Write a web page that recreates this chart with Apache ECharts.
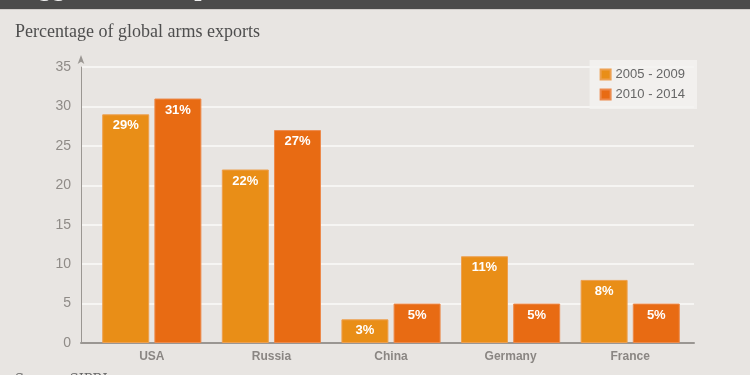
<!DOCTYPE html>
<html><head><meta charset="utf-8">
<script src="https://cdn.jsdelivr.net/npm/echarts@6/dist/echarts.min.js"></script>
<style>html,body{margin:0;padding:0;background:#e8e5e2;}#c{width:750px;height:375px;}</style>
</head><body><div id="c"></div>
<script>
var categories = ['USA', 'Russia', 'China', 'Germany', 'France'];
var seriesNames = ['2005 - 2009', '2010 - 2014'];
var values2005_2009 = [29, 22, 3, 11, 8];
var values2010_2014 = [31, 27, 5, 5, 5];
var yTicks = [0, 5, 10, 15, 20, 25, 30, 35];

var chart = echarts.init(document.getElementById('c'));
var labelCfg = {show: true, position: 'insideTop', distance: 5, color: '#fff', fontWeight: 'bold',
  fontSize: 13, fontFamily: 'Liberation Sans, Arial, sans-serif', formatter: '{c}%'};
chart.setOption({
  backgroundColor: '#e8e5e2',
  animation: false,
  title: {text: 'Percentage of global arms exports', left: 10, top: 18,
    textStyle: {fontFamily: 'Liberation Serif, serif', fontWeight: 'normal', fontSize: 18, color: '#4e4e4e'}},
  graphic: [
    {type: 'rect', left: 0, top: 0, shape: {width: 750, height: 9}, style: {fill: '#4b4b4b'}},
    {type: 'rect', left: 0, top: 9, shape: {width: 750, height: 1}, style: {fill: '#d0cdca'}},
    {type: 'text', left: 14, top: -18, style: {text: 'Biggest arms exporters', fill: '#eee', font: 'bold 20px DejaVu Serif, serif'}},
    {type: 'text', left: 15, top: 373, style: {text: 'Source: SIPRI', fill: '#666', font: '13px DejaVu Serif, serif'}}
  ],
  legend: {orient: 'vertical', right: 53, top: 60, padding: [8, 12, 8, 10], itemGap: 7,
    backgroundColor: 'rgba(243,242,240,0.85)', icon: 'rect', itemWidth: 10, itemHeight: 10,
    data: seriesNames,
    textStyle: {color: '#666', fontSize: 13, fontFamily: 'Liberation Sans, Arial, sans-serif'}},
  grid: [
    {left: 81, right: 56, top: 67, bottom: 32},
    {left: 92, right: 60, top: 67, bottom: 32}
  ],
  xAxis: [
    {gridIndex: 0, type: 'value', min: 0, max: 1, axisLabel: {show: false}, axisTick: {show: false},
      splitLine: {show: false}, axisLine: {show: true, lineStyle: {color: '#9a9692', width: 2}}},
    {gridIndex: 1, type: 'category', data: categories, axisLine: {show: false}, axisTick: {show: false},
      axisLabel: {color: '#8a8683', fontWeight: 'bold', fontSize: 12, margin: 8,
        fontFamily: 'Liberation Sans, Arial, sans-serif'}}
  ],
  yAxis: [
    {gridIndex: 0, type: 'value', min: yTicks[0], max: yTicks[yTicks.length - 1], interval: 5,
      axisLine: {show: true, lineStyle: {color: '#9a9692', width: 1}, symbol: ['none', 'arrow'], symbolSize: [5, 9], symbolOffset: [0, 12]},
      axisTick: {show: false},
      axisLabel: {color: '#8f8b87', fontSize: 14, margin: 10, fontFamily: 'Liberation Sans, Arial, sans-serif'},
      splitLine: {show: true, lineStyle: {color: '#f6f5f3', width: 2}}},
    {gridIndex: 1, type: 'value', min: yTicks[0], max: yTicks[yTicks.length - 1], interval: 5, show: false,
      splitLine: {show: false}}
  ],
  series: [
    {name: seriesNames[0], type: 'bar', xAxisIndex: 1, yAxisIndex: 1, data: values2005_2009,
      barWidth: 47, barGap: '11%', itemStyle: {color: '#e98e17', borderColor: '#eda050', borderWidth: 1}, label: labelCfg},
    {name: seriesNames[1], type: 'bar', xAxisIndex: 1, yAxisIndex: 1, data: values2010_2014,
      barWidth: 47, barGap: '11%', itemStyle: {color: '#e86b13', borderColor: '#ec8a4c', borderWidth: 1}, label: labelCfg}
  ]
});
</script></body></html>
